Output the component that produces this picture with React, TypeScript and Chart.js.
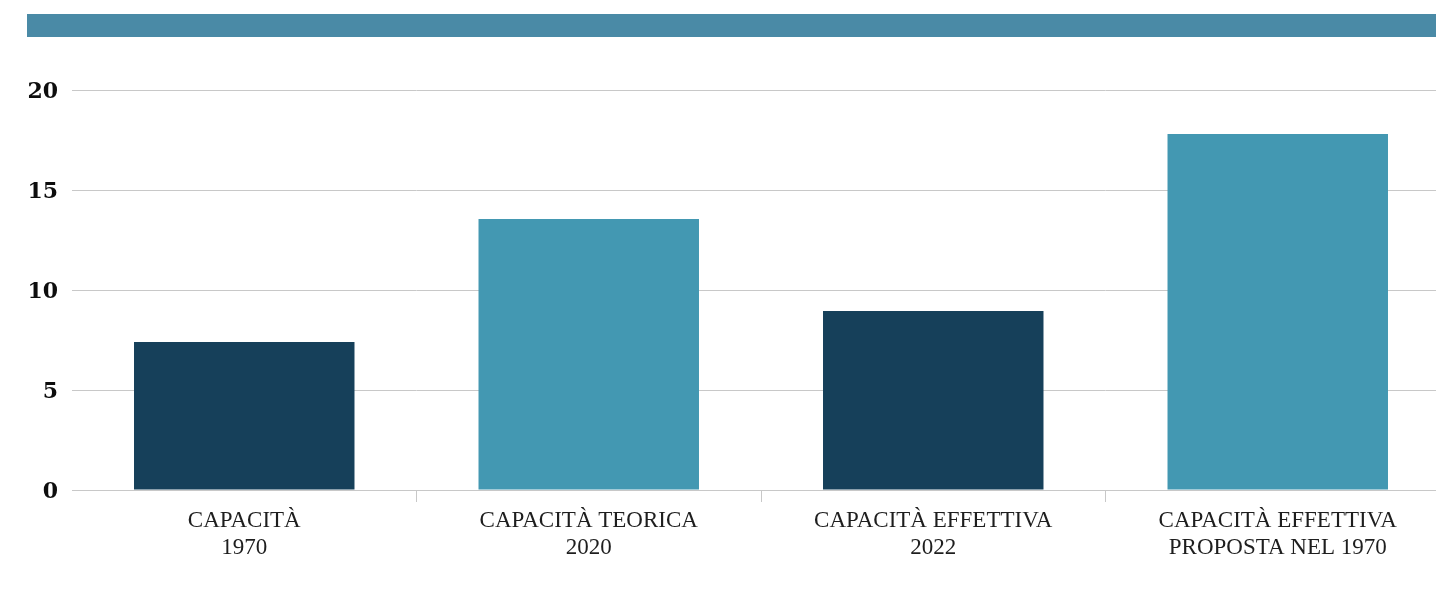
import React, { useEffect, useRef } from "react";
import { Chart, registerables } from "chart.js";

Chart.register(...registerables);

const categories: string[][] = [
  ["CAPACITÀ", "1970"],
  ["CAPACITÀ TEORICA", "2020"],
  ["CAPACITÀ EFFETTIVA", "2022"],
  ["CAPACITÀ EFFETTIVA", "PROPOSTA NEL 1970"],
];
const values: number[] = [7.4, 13.55, 8.95, 17.8];
const barColors: string[] = ["#16405a", "#4398b2", "#16405a", "#4398b2"];
const yTicks: number[] = [0, 5, 10, 15, 20];

export default function App() {
  const ref = useRef<HTMLCanvasElement | null>(null);

  useEffect(() => {
    if (!ref.current) return;
    const chart = new Chart(ref.current, {
      type: "bar",
      data: {
        labels: categories,
        datasets: [
          {
            data: values,
            backgroundColor: barColors,
            borderWidth: 0,
            categoryPercentage: 1,
            barPercentage: 0.64,
          },
        ],
      },
      options: {
        animation: false,
        responsive: false,
        devicePixelRatio: 1,
        layout: { padding: { top: 90, left: 0, right: 0, bottom: 0 } },
        plugins: { legend: { display: false }, tooltip: { enabled: false } },
        scales: {
          x: {
            grid: {
              offset: true,
              drawOnChartArea: false,
              drawTicks: true,
              tickLength: 12,
              color: (ctx: any) => (ctx.index === 0 ? "rgba(0,0,0,0)" : "#c8c8c8"),
              lineWidth: 1,
            },
            border: { display: false },
            ticks: {
              color: "#1e1e1e",
              font: { family: "'Liberation Serif', serif", size: 23, lineHeight: 1.2 },
              padding: 5,
              maxRotation: 0,
              autoSkip: false,
            },
            afterFit: (s: any) => {
              s.height = 99;
            },
          },
          y: {
            min: 0,
            max: 20,
            afterBuildTicks: (s: any) => {
              s.ticks = yTicks.map((v) => ({ value: v }));
            },
            grid: { color: "#c8c8c8", lineWidth: 1, drawTicks: false },
            border: { display: false },
            ticks: {
              color: "#0d0d0d",
              font: { family: "'DejaVu Serif', serif", size: 22, weight: "bold" },
              padding: 14,
              labelOffset: 2,
            },
            afterFit: (s: any) => {
              s.width = 72;
            },
          },
        },
      },
    });
    return () => chart.destroy();
  }, []);

  return (
    <div
      style={{
        position: "fixed",
        left: 0,
        top: 0,
        width: 1436,
        height: 589,
        overflow: "hidden",
        background: "#fff",
      }}
    >
      <canvas ref={ref} width={1450} height={589} style={{ position: "absolute", left: 0, top: 0 }} />
      <div
        style={{
          position: "absolute",
          left: 27,
          top: 14,
          width: 1420,
          height: 23,
          background: "#4a8aa6",
        }}
      />
    </div>
  );
}
